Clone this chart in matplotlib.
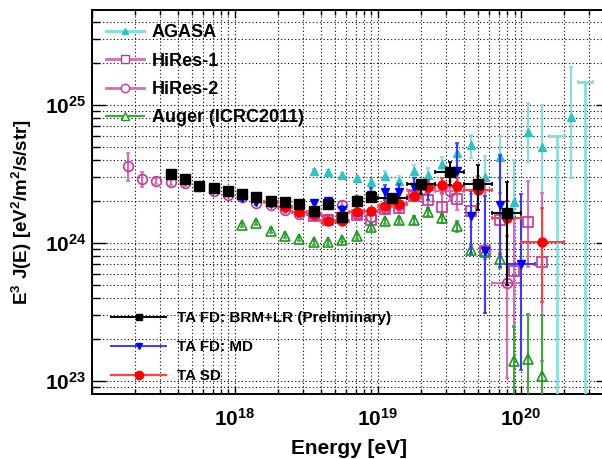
import numpy as np
import matplotlib
matplotlib.use('Agg')
import matplotlib.pyplot as plt
from matplotlib.lines import Line2D
from matplotlib.ticker import LogLocator, FuncFormatter, NullFormatter

plt.rcParams['font.family'] = ['Liberation Sans', 'DejaVu Sans']
plt.rcParams['font.weight'] = 'bold'
plt.rcParams['mathtext.fontset'] = 'custom'
plt.rcParams['mathtext.rm'] = 'Liberation Sans:bold'
plt.rcParams['mathtext.bf'] = 'Liberation Sans:bold'
plt.rcParams['mathtext.it'] = 'Liberation Sans:bold'
plt.rcParams['mathtext.default'] = 'bf'

# ---------------- data (log10 E [eV], E^3 J in units of 1e24 eV^2/m^2/s/sr) ----------------
AGASA_logE = [18.55, 18.65, 18.75, 18.85, 18.95, 19.05, 19.15, 19.25, 19.35, 19.45, 19.55, 19.65,
              19.75, 19.85, 19.95, 20.05, 20.15, 20.35]
AGASA_J = [3.33, 3.27, 3.11, 2.94, 2.78, 3.08, 2.81, 3.33, 3.11, 3.72, 4.51, 5.13,
           3.00, 4.20, 1.97, 6.34, 5.00, 8.20]
AGASA_hi = [3.45, 3.40, 3.24, 3.07, 2.92, 3.30, 3.05, 3.70, 3.50, 4.22, 5.15, 6.10,
            4.30, 6.00, 4.00, 10.3, 10.0, 19.0]
AGASA_lo = [3.21, 3.14, 2.98, 2.81, 2.64, 2.88, 2.58, 3.00, 2.75, 3.27, 3.95, 4.15,
            2.30, 2.90, 0.39, 3.88, 0.50, 2.96]
AGASA_ul_logE = [20.25, 20.45]
AGASA_ul = [5.96, 14.8]

H1_logE = [18.55, 18.65, 18.75, 18.85, 18.95, 19.05, 19.15, 19.25, 19.35, 19.45, 19.55, 19.65,
           19.75, 19.85, 19.95, 20.05, 20.15]
H1_J = [1.58, 1.47, 1.51, 1.60, 1.48, 1.75, 1.80, 2.20, 2.05, 1.81, 2.09, 1.72,
        0.88, 1.47, 0.63, 1.43, 0.73]
H1_hi = [1.66, 1.55, 1.60, 1.70, 1.58, 1.88, 1.95, 2.40, 2.38, 2.27, 2.56, 2.27,
         2.80, 2.30, 1.50, 2.83, 2.29]
H1_lo = [1.50, 1.39, 1.42, 1.50, 1.38, 1.62, 1.65, 2.00, 1.77, 1.55, 1.74, 1.30,
         0.31, 0.85, 0.25, 0.67, 0.14]

H2_logE = [17.25, 17.35, 17.45, 17.55, 17.65, 17.75, 17.85, 17.95, 18.05, 18.15, 18.25, 18.35,
           18.45, 18.55, 18.65, 18.75, 18.85, 18.95, 19.05, 19.15, 19.3, 19.5, 19.9]
H2_dlogE = [0] * 20 + [0.1, 0.1, 0.1]
H2_J = [3.62, 2.91, 2.83, 2.75, 2.70, 2.61, 2.37, 2.22, 2.15, 1.96, 1.90, 1.73,
        1.62, 1.60, 1.50, 1.88, 1.62, 1.55, 1.78, 1.88, 2.42, 2.39, 0.51]
H2_hi = [4.50, 3.27, 2.98, 2.86, 2.80, 2.70, 2.45, 2.30, 2.23, 2.04, 1.98, 1.81,
         1.70, 1.69, 1.60, 2.00, 1.75, 1.70, 1.95, 2.08, 2.75, 2.80, 1.60]
H2_lo = [2.83, 2.56, 2.68, 2.64, 2.60, 2.52, 2.29, 2.14, 2.07, 1.88, 1.82, 1.65,
         1.54, 1.51, 1.40, 1.76, 1.49, 1.40, 1.61, 1.68, 2.10, 2.00, 0.105]

AU_logE = [18.05, 18.15, 18.25, 18.35, 18.45, 18.55, 18.65, 18.75, 18.85, 18.95, 19.05, 19.15,
           19.25, 19.35, 19.45, 19.55, 19.65, 19.75, 19.85, 19.95, 20.05, 20.15]
AU_J = [1.35, 1.39, 1.23, 1.12, 1.07, 1.01, 1.01, 1.05, 1.12, 1.30, 1.45, 1.47,
        1.47, 1.69, 1.51, 1.33, 0.89, 0.86, 0.765, 0.140, 0.144, 0.109]
AU_hi = [1.40, 1.44, 1.28, 1.16, 1.11, 1.05, 1.05, 1.09, 1.17, 1.36, 1.52, 1.55,
         1.56, 1.80, 1.63, 1.45, 0.96, 0.96, 0.83, 0.247, 0.304, 0.300]
AU_lo = [1.30, 1.34, 1.18, 1.08, 1.03, 0.97, 0.97, 1.01, 1.07, 1.24, 1.38, 1.39,
         1.38, 1.58, 1.39, 1.21, 0.82, 0.76, 0.66, 0.001, 0.001, 0.001]

MD_logE = [18.05, 18.15, 18.25, 18.35, 18.45, 18.55, 18.65, 18.75, 18.85, 18.95, 19.05, 19.15,
           19.25, 19.35, 19.55, 19.65, 19.75, 19.85, 20.0]
MD_dlogE = [0] * 18 + [0.1]
MD_J = [2.11, 1.97, 1.91, 1.88, 1.84, 1.94, 2.00, 1.73, 2.00, 2.23, 2.34, 2.34,
        2.56, 2.42, 3.34, 1.57, 0.88, 1.88, 0.705]
MD_hi = [2.18, 2.04, 1.98, 1.96, 1.93, 2.05, 2.13, 1.86, 2.18, 2.50, 2.65, 2.66,
         2.95, 2.85, 5.27, 2.40, 2.20, 4.35, 2.26]
MD_lo = [2.04, 1.90, 1.84, 1.80, 1.75, 1.83, 1.87, 1.60, 1.82, 1.98, 2.05, 2.04,
         2.20, 2.05, 2.78, 0.85, 0.31, 0.67, 0.12]

SD_logE = [18.25, 18.35, 18.45, 18.55, 18.65, 18.75, 18.85, 18.95, 19.05, 19.15, 19.25, 19.35,
           19.45, 19.55, 19.7, 19.9, 20.15]
SD_dlogE = [0.05] * 14 + [0.1, 0.1, 0.15]
SD_J = [1.97, 1.83, 1.69, 1.62, 1.45, 1.45, 1.69, 1.71, 1.85, 1.92, 2.18, 2.56,
        2.62, 2.58, 2.42, 1.51, 1.02]
SD_hi = [2.03, 1.89, 1.75, 1.68, 1.51, 1.52, 1.77, 1.80, 1.95, 2.04, 2.35, 2.82,
         2.95, 2.95, 3.05, 2.00, 1.78]
SD_lo = [1.91, 1.77, 1.63, 1.56, 1.39, 1.38, 1.61, 1.62, 1.75, 1.80, 2.01, 2.30,
         2.32, 2.25, 1.92, 1.12, 0.376]

BR_logE = [17.55, 17.65, 17.75, 17.85, 17.95, 18.05, 18.15, 18.25, 18.35, 18.45, 18.55, 18.65,
           18.75, 18.85, 18.95, 19.1, 19.3, 19.5, 19.7, 19.9]
BR_dlogE = [0] * 15 + [0.1] * 5
BR_J = [3.15, 2.90, 2.59, 2.49, 2.38, 2.26, 2.14, 2.03, 1.97, 1.92, 1.71, 1.91,
        1.55, 2.00, 2.17, 2.13, 2.66, 3.29, 2.68, 1.66]
BR_hi = [3.25, 2.99, 2.67, 2.57, 2.46, 2.34, 2.22, 2.11, 2.05, 2.00, 1.82, 2.03,
         1.66, 2.14, 2.35, 2.28, 2.85, 3.88, 3.67, 2.78]
BR_lo = [3.05, 2.81, 2.51, 2.41, 2.30, 2.18, 2.06, 1.95, 1.89, 1.84, 1.60, 1.79,
         1.44, 1.86, 2.00, 1.98, 2.28, 2.63, 1.73, 0.50]

SCALE = 1e24
ZERO = 1e-4  # lower end of upper limits (off-axis)

# ---------------- colours ----------------
C_AGASA, C_AGASA_E = '#2cc4c6', '#86dede'
C_HIRES, C_HIRES_E = '#cc3399', '#dd6ab8'
C_AUGER, C_AUGER_E = '#1c9a1c', '#3aaa3a'
C_MD, C_MD_E = '#0000ff', '#3a3aff'
C_SD, C_SD_E = '#ff0000', '#ff4040'
C_BR, C_BR_E = '#000000', '#000000'


def series(logE, J, hi, lo, dlogE=None):
    logE = np.asarray(logE, float)
    E = 10 ** logE
    J = np.asarray(J) * SCALE
    hi = np.asarray(hi) * SCALE
    lo = np.asarray(lo) * SCALE
    if dlogE is None:
        xerr = None
    else:
        d = np.asarray(dlogE, float)
        xerr = np.vstack([E - 10 ** (logE - d), 10 ** (logE + d) - E])
    yerr = np.vstack([J - lo, hi - J])
    return E, J, xerr, yerr


fig = plt.figure(figsize=(6.02, 4.59), dpi=100)
ax = fig.add_axes([92 / 602, 65 / 459, 518 / 602, 384.5 / 459])
ax.set_xscale('log')
ax.set_yscale('log')
ax.set_xlim(10 ** 17, 10 ** 20.622)
ax.set_ylim(10 ** 22.906, 10 ** 25.692)

grid_kw = dict(color='black', linestyle=(0, (1, 2.2)), linewidth=0.8)
ax.grid(True, which='major', **grid_kw)
ax.grid(True, which='minor', **grid_kw)
ax.set_axisbelow(True)

# AGASA
E, J, xe, ye = series(AGASA_logE, AGASA_J, AGASA_hi, AGASA_lo)
ax.errorbar(E, J, yerr=ye, fmt='^', ms=6, mfc=C_AGASA, mec=C_AGASA, ecolor=C_AGASA_E,
            elinewidth=1.6, capsize=1.5, capthick=1.2, zorder=3)
Eul = 10 ** np.asarray(AGASA_ul_logE)
Jul = np.asarray(AGASA_ul) * SCALE
xul = np.vstack([Eul - 10 ** (np.asarray(AGASA_ul_logE) - 0.055), 10 ** (np.asarray(AGASA_ul_logE) + 0.055) - Eul])
ax.errorbar(Eul, Jul, xerr=xul, yerr=np.vstack([Jul - ZERO, np.zeros_like(Jul)]), fmt='none',
            ecolor=C_AGASA_E, elinewidth=2.0, capsize=1.5, capthick=1.2, zorder=3)

# HiRes-1
E, J, xe, ye = series(H1_logE, H1_J, H1_hi, H1_lo)
ax.errorbar(E, J, yerr=ye, fmt='s', ms=7, mfc='none', mec=C_HIRES, mew=1.2, ecolor=C_HIRES_E,
            elinewidth=1.5, capsize=1.5, capthick=1.2, zorder=4)
# HiRes-2
E, J, xe, ye = series(H2_logE, H2_J, H2_hi, H2_lo, H2_dlogE)
ax.errorbar(E, J, xerr=xe, yerr=ye, fmt='o', ms=7, mfc='none', mec=C_HIRES, mew=1.2, ecolor=C_HIRES_E,
            elinewidth=1.5, capsize=1.5, capthick=1.2, zorder=4)
# Auger
E, J, xe, ye = series(AU_logE, AU_J, AU_hi, AU_lo)
ax.errorbar(E, J, yerr=ye, fmt='^', ms=7.2, mfc='none', mec=C_AUGER, mew=1.2, ecolor=C_AUGER_E,
            elinewidth=1.5, capsize=1.5, capthick=1.2, zorder=4)
# TA FD MD
E, J, xe, ye = series(MD_logE, MD_J, MD_hi, MD_lo, MD_dlogE)
ax.errorbar(E, J, xerr=xe, yerr=ye, fmt='v', ms=6, mfc=C_MD, mec=C_MD, ecolor=C_MD_E,
            elinewidth=1.5, capsize=1.5, capthick=1.2, zorder=5)
# TA SD
E, J, xe, ye = series(SD_logE, SD_J, SD_hi, SD_lo, SD_dlogE)
ax.errorbar(E, J, xerr=xe, yerr=ye, fmt='o', ms=6.5, mfc=C_SD, mec=C_SD, ecolor=C_SD_E,
            elinewidth=1.5, capsize=1.5, capthick=1.2, zorder=6)
# TA FD BRM+LR
E, J, xe, ye = series(BR_logE, BR_J, BR_hi, BR_lo, BR_dlogE)
ax.errorbar(E, J, xerr=xe, yerr=ye, fmt='s', ms=6.5, mfc=C_BR, mec=C_BR, ecolor=C_BR_E,
            elinewidth=1.5, capsize=1.5, capthick=1.2, zorder=7)

# ---------------- axes styling ----------------
for s in ax.spines.values():
    s.set_linewidth(1.4)
ax.xaxis.set_major_locator(LogLocator(base=10, numticks=10))
ax.xaxis.set_minor_locator(LogLocator(base=10, subs=np.arange(2, 10), numticks=20))
ax.yaxis.set_major_locator(LogLocator(base=10, numticks=10))
ax.yaxis.set_minor_locator(LogLocator(base=10, subs=np.arange(2, 10), numticks=20))
ax.xaxis.set_minor_formatter(NullFormatter())
ax.yaxis.set_minor_formatter(NullFormatter())


def dec_fmt(v, pos):
    e = int(round(np.log10(v)))
    if abs(np.log10(v) - e) > 1e-6 or e == 17:
        return ''
    return r'$10^{%d}$' % e


ax.xaxis.set_major_formatter(FuncFormatter(dec_fmt))
ax.yaxis.set_major_formatter(FuncFormatter(dec_fmt))
ax.tick_params(which='both', direction='in', top=True, right=True, labelsize=15)
ax.tick_params(axis='x', which='major', length=6, width=1.0, pad=10)
ax.tick_params(axis='x', which='minor', length=3.5, width=1.0)
ax.tick_params(axis='y', which='major', length=10, width=1.0, pad=4)
ax.tick_params(axis='y', which='minor', length=5.5, width=1.0)

fig.text(349 / 602, 1 - 454 / 459, 'Energy [eV]', ha='center', va='baseline', fontsize=15, fontweight='bold')
fig.text(22 / 602, 1 - 212 / 459, r'$E^{3}\ J(E)\ [eV^{2}/m^{2}/s/str]$', rotation=90,
         ha='center', va='center', fontsize=13.5)

# ---------------- legends ----------------
h1 = [
    Line2D([], [], color=C_AGASA_E, lw=2.2, marker='^', ms=5, mfc=C_AGASA, mec=C_AGASA),
    Line2D([], [], color=C_HIRES_E, lw=2.0, marker='s', ms=6, mfc='white', mec=C_HIRES, mew=1.0),
    Line2D([], [], color=C_HIRES_E, lw=2.0, marker='o', ms=6, mfc='white', mec=C_HIRES, mew=1.0),
    Line2D([], [], color=C_AUGER_E, lw=1.6, marker='^', ms=6, mfc='white', mec=C_AUGER, mew=1.0),
]
l1 = ax.legend(h1, ['AGASA', 'HiRes-1', 'HiRes-2', 'Auger (ICRC2011)'], loc='upper left',
               bbox_to_anchor=(0.027, 0.961), frameon=False, borderpad=0,
               borderaxespad=0, handlelength=2.1, handletextpad=0.45, labelspacing=0.62,
               prop={'weight': 'bold', 'size': 13})
ax.add_artist(l1)
h2 = [
    Line2D([], [], color=C_BR_E, lw=1.4, marker='s', ms=5, mfc=C_BR, mec=C_BR),
    Line2D([], [], color=C_MD_E, lw=1.4, marker='v', ms=5, mfc=C_MD, mec=C_MD),
    Line2D([], [], color=C_SD_E, lw=1.6, marker='o', ms=6, mfc=C_SD, mec=C_SD),
]
l2 = ax.legend(h2, ['TA FD: BRM+LR (Preliminary)', 'TA FD: MD', 'TA SD'], loc='upper left',
               bbox_to_anchor=(0.0367, 0.216), frameon=False, borderpad=0,
               borderaxespad=0, handlelength=3.6, handletextpad=0.7, labelspacing=0.99,
               prop={'weight': 'bold', 'size': 11})

fig.savefig('out.png', dpi=100)
